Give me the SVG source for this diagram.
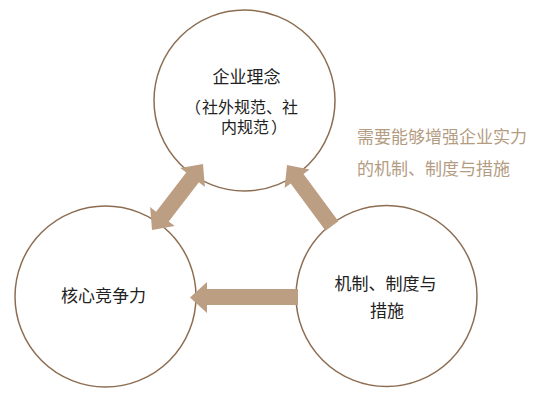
<svg xmlns="http://www.w3.org/2000/svg" width="544" height="400" viewBox="0 0 544 400">
<style>
.node circle{fill:#fff;stroke:#8c6d52;stroke-width:1.5}
.lbl{font-family:"Noto Sans CJK SC","Noto Sans CJK JP",sans-serif;fill:#222;font-size:17px;text-anchor:middle}
.sub{font-size:16px;text-anchor:start}
.note{font-family:"Noto Sans CJK SC","Noto Sans CJK JP",sans-serif;fill:#b49c82;font-size:17px}
.arrow{fill:#bc9f83}
</style>
<rect width="544" height="400" fill="#fff"/>
<g id="node-top" class="node">
<circle cx="244.5" cy="100.5" r="90.5"/>
<text class="lbl" x="246.5" y="82.5">企业理念</text>
<text class="lbl sub" y="113"><tspan x="185">（</tspan><tspan x="202">社外规范、社</tspan></text>
<text class="lbl sub" y="133"><tspan x="221">内规范</tspan><tspan x="271">）</tspan></text>
</g>
<g id="node-left" class="node">
<circle cx="105.5" cy="296.5" r="90.5"/>
<text class="lbl" x="103.5" y="301.5">核心竞争力</text>
</g>
<g id="node-right" class="node">
<circle cx="386.5" cy="296" r="90.5"/>
<text class="lbl" x="385.5" y="290">机制、制度与</text>
<text class="lbl" x="387" y="317">措施</text>
</g>
<g id="connectors">
<polygon class="arrow" points="203,164 204.87,186.93 198.93,182.34 168.73,221.44 174.67,226.03 152,230 150.13,207.07 156.07,211.66 186.27,172.56 180.33,167.97"/>
<polygon class="arrow" points="338.4,221.2 303.5,174 309.6,169.5 287,165 284.6,187.9 290.7,183.5 325.6,230.8"/>
<polygon class="arrow" points="298,289 207,289 207,282 190,297.5 207,313 207,305 298,305"/>
</g>
<g id="note">
<text class="note" x="357" y="143">需要能够增强企业实力</text>
<text class="note" x="357" y="175">的机制、制度与措施</text>
</g>
</svg>
